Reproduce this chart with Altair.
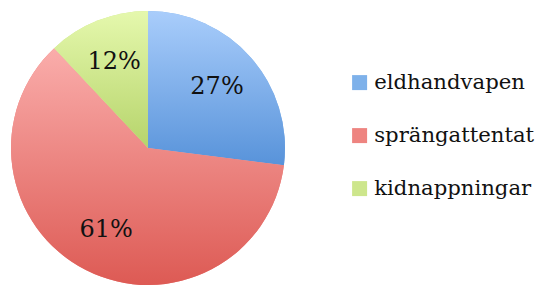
import altair as alt
import pandas as pd

categories = ["eldhandvapen", "sprängattentat", "kidnappningar"]
values = [27, 61, 12]
labels = ["27%", "61%", "12%"]
order = [0, 1, 2]
mid_colors = ["#7eb1ea", "#ee8480", "#cde68c"]
top_colors = ["#a9cdfb", "#faadab", "#e5f8ad"]
bottom_colors = ["#5893da", "#dd5a54", "#b6d46b"]

df = pd.DataFrame({"cat": categories, "value": values, "label": labels, "idx": order})


def grad(i):
    return {
        "gradient": "linear",
        "x1": 0, "y1": 0, "x2": 0, "y2": 1,
        "stops": [
            {"offset": 0, "color": top_colors[i]},
            {"offset": 1, "color": bottom_colors[i]},
        ],
    }


theta = alt.Theta("value:Q", stack=True)
ordr = alt.Order("idx:Q")
cx = alt.value(140)
cy = alt.value(140)

base = alt.Chart(df)

legend_arcs = base.mark_arc(radius=137, stroke=None).encode(
    theta=theta,
    order=ordr,
    x=cx,
    y=cy,
    color=alt.Color(
        "cat:N",
        scale=alt.Scale(domain=categories, range=mid_colors),
        sort=categories,
        legend=alt.Legend(
            title=None,
            orient="none",
            legendX=341,
            legendY=64,
            symbolType="square",
            symbolSize=225,
            symbolStrokeWidth=0,
            labelFont="DejaVu Serif",
            labelFontSize=21.2,
            labelColor="#111111",
            labelOffset=4,
            rowPadding=31,
            labelLimit=300,
        ),
    ),
)

fill_cond = (
    alt.when(alt.datum.cat == categories[0]).then(alt.value(grad(0)))
    .when(alt.datum.cat == categories[1]).then(alt.value(grad(1)))
    .otherwise(alt.value(grad(2)))
)

grad_arcs = base.mark_arc(radius=137, stroke=None).encode(
    theta=theta,
    order=ordr,
    x=cx,
    y=cy,
    fill=fill_cond,
)

text = base.mark_text(radius=92, font="DejaVu Serif", fontSize=24, color="#111111").encode(
    theta=theta,
    order=ordr,
    x=cx,
    y=cy,
    text="label:N",
)

chart = alt.layer(legend_arcs, grad_arcs, text).properties(
    width=530, height=277, padding=0,
    autosize=alt.AutoSizeParams(type="none"),
).configure_view(stroke=None)

chart.save("out.html", embed_options={"renderer": "svg", "actions": False})
